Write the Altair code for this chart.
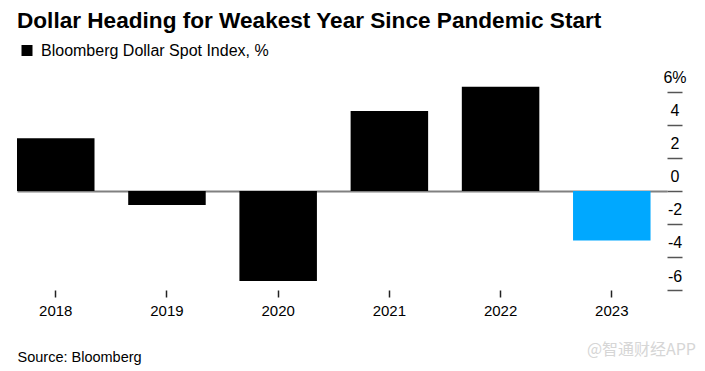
import altair as alt
import pandas as pd

years = ["2018", "2019", "2020", "2021", "2022", "2023"]
values = [3.2, -0.85, -5.45, 4.85, 6.32, -3.0]
series_name = "Bloomberg Dollar Spot Index, %"
y_ticks = [-6, -4, -2, 0, 2, 4, 6]

title_text = "Dollar Heading for Weakest Year Since Pandemic Start"
source_text = "Source: Bloomberg"
watermark_text = "@智通财经APP"

df = pd.DataFrame({"year": years, "value": values, "series": [series_name] * len(years)})

FONT = "Liberation Sans"

bars = alt.Chart(df).mark_bar().encode(
    x=alt.X(
        "year:N",
        sort=years,
        scale=alt.Scale(paddingInner=0.303, paddingOuter=0.074, align=0),
        axis=alt.Axis(
            title=source_text,
            titleAnchor="start",
            titleAlign="left",
            titleFontSize=14.5,
            titleFontWeight="normal",
            titleFont=FONT,
            titleColor="#000000",
            titlePadding=32,
            labelAngle=0,
            labelFont=FONT,
            labelFontSize=15,
            labelColor="#000000",
            labelPadding=6,
            domain=False,
            ticks=True,
            tickSize=7,
            tickColor="#222222",
            tickWidth=1.5,
            grid=False,
        ),
    ),
    y=alt.Y(
        "value:Q",
        scale=alt.Scale(domain=[-6, 6.42], nice=False, zero=True),
        axis=alt.Axis(
            orient="right",
            title=None,
            values=y_ticks,
            labelExpr="datum.value == 6 ? '6%' : '' + datum.value",
            labelFont=FONT,
            labelFontSize=16,
            labelColor="#000000",
            labelAlign="center",
            labelBaseline="alphabetic",
            labelPadding=-7.5,
            labelOffset=-9,
            labelOverlap=False,
            labelBound=False,
            labelSeparation=0,
            domain=False,
            tickSize=15,
            tickColor="#555555",
            tickWidth=1.5,
            grid=True,
            gridColor=alt.condition(
                alt.datum.value == 0, alt.value("#808080"), alt.value("transparent")
            ),
            gridWidth=2,
        ),
    ),
    color=alt.condition(
        alt.datum.year == "2023",
        alt.value("#00a8ff"),
        alt.Color(
            "series:N",
            scale=alt.Scale(domain=[series_name], range=["#000000"]),
            legend=alt.Legend(
                title=None,
                orient="none",
                legendX=2,
                legendY=-42.5,
                symbolType="square",
                symbolSize=121,
                symbolStrokeWidth=0,
                labelFont=FONT,
                labelFontSize=16,
                labelColor="#000000",
                labelOffset=6,
                labelLimit=400,
                padding=0,
            ),
        ),
    ),
)

watermark = alt.Chart(pd.DataFrame({"t": [watermark_text]})).mark_text(
    font="Noto Sans CJK SC",
    fontSize=16,
    color="#d6d6d6",
    align="right",
    baseline="middle",
).encode(text="t:N", x=alt.value(679), y=alt.value(265))

chart = (
    alt.layer(bars, watermark)
    .properties(
        width=650,
        height=205,
        padding={"left": 9, "top": 1, "right": 0, "bottom": 2},
        title=alt.TitleParams(
            text=title_text,
            anchor="start",
            font=FONT,
            fontSize=22.6,
            fontWeight="bold",
            color="#000000",
            offset=10,
        ),
    )
    .configure_view(strokeWidth=0, stroke="transparent")
    .configure_axis(domain=False)
    .configure(
        background="#ffffff",
        style={"cell": {"stroke": "transparent", "strokeWidth": 0}},
    )
)

chart.save("out.html", embed_options={"renderer": "svg", "actions": False})
